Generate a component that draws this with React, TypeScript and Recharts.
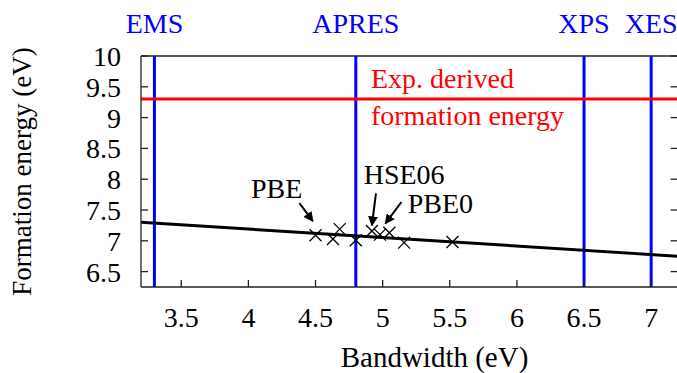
import {
  ComposedChart,
  Line,
  Scatter,
  XAxis,
  YAxis,
  ReferenceLine,
  ReferenceDot,
  Label,
} from "recharts";

const FONT = "Liberation Serif";
const FS = 28;

// calculated formation energy vs bandwidth for each functional
const bandwidth = [4.5, 4.63, 4.68, 4.8, 4.92, 4.98, 5.05, 5.16, 5.52];
const energy = [7.09, 7.03, 7.19, 7.01, 7.16, 7.1, 7.13, 6.97, 6.98];

// linear fit through the points
const fitX = [3.2, 7.2];
const fitY = [7.3, 6.75];

// experimental techniques (bandwidth in eV)
const methods = ["EMS", "APRES", "XPS", "XES"];
const methodBandwidth = [3.3, 4.8, 6.5, 7.0];

const expFormationEnergy = 9.3;

const xDomain = [3.2, 7.2];
const yDomain = [6.25, 10];
const xTicks = [3.5, 4, 4.5, 5, 5.5, 6, 6.5, 7];
const yTicks = [6.5, 7, 7.5, 8, 8.5, 9, 9.5, 10];

// functional labels with arrows pointing to their points
const funcNames = ["PBE", "HSE06", "PBE0"];
const funcLabelPos = [
  [4.21, 7.86],
  [5.16, 8.09],
  [5.43, 7.61],
];
const funcArrows = [
  [[4.38, 7.61], [4.48, 7.32]],
  [[4.95, 7.77], [4.92, 7.25]],
  [[5.14, 7.63], [5.02, 7.28]],
];

const points = bandwidth.map((x, i) => ({ x, y: energy[i] }));
const fit = fitX.map((x, i) => ({ x, y: fitY[i] }));

const Cross = (props: any) => {
  const { cx, cy } = props;
  const s = 6;
  return (
    <g stroke="#000" strokeWidth={1.3}>
      <line x1={cx - s} y1={cy - s} x2={cx + s} y2={cy + s} />
      <line x1={cx - s} y1={cy + s} x2={cx + s} y2={cy - s} />
    </g>
  );
};

const axisColor = "#222";
const textStyle = { fontFamily: FONT };
// length of the mirrored right-hand ticks, in eV
const rightTickLen = 0.055;

export default function App() {
  return (
    <div style={{ position: "absolute", left: 0, top: 0, width: 677, height: 373, overflow: "hidden", fontFamily: FONT }}>
      <ComposedChart
        width={679}
        height={373}
        margin={{ top: 56, right: 1, left: 0, bottom: 0 }}
        style={textStyle}
      >
        <defs>
          <marker id="head" viewBox="0 0 10 10" refX="9" refY="5" markerWidth="5" markerHeight="5" orient="auto">
            <path d="M0,0 L10,5 L0,10 z" fill="#000" />
          </marker>
        </defs>
        <XAxis
          type="number"
          dataKey="x"
          domain={xDomain}
          ticks={xTicks}
          interval={0}
          allowDataOverflow
          height={86}
          tickSize={-7}
          tickMargin={27}
          stroke={axisColor}
          strokeWidth={1.3}
          tickLine={{ stroke: axisColor, strokeWidth: 1.3 }}
          tick={{ fill: "#000", fontSize: FS, style: textStyle }}
        >
          <Label
            content={({ viewBox }: any) => (
              <text
                x={viewBox.x + viewBox.width / 2 + 25}
                y={viewBox.y + 80}
                textAnchor="middle"
                fontSize={29}
                style={textStyle}
                fill="#000"
              >
                Bandwidth (eV)
              </text>
            )}
          />
        </XAxis>
        <YAxis
          type="number"
          dataKey="y"
          domain={yDomain}
          ticks={yTicks}
          interval={0}
          allowDataOverflow
          width={141}
          tickSize={-7}
          tickMargin={27}
          stroke={axisColor}
          strokeWidth={1.3}
          tickLine={{ stroke: axisColor, strokeWidth: 1.3 }}
          tick={{ fill: "#000", fontSize: FS, style: textStyle }}
        >
          <Label
            content={({ viewBox }: any) => {
              const cx = viewBox.x + 22;
              const cy = viewBox.y + viewBox.height / 2;
              return (
                <text
                  x={cx}
                  y={cy}
                  dy="0.35em"
                  textAnchor="middle"
                  fontSize={27}
                  style={textStyle}
                  fill="#000"
                  transform={`rotate(-90 ${cx} ${cy})`}
                >
                  Formation energy (eV)
                </text>
              );
            }}
          />
        </YAxis>
        <ReferenceLine y={10} stroke={axisColor} strokeWidth={1.3} />
        {yTicks.map((t) => (
          <ReferenceLine
            key={"rt" + t}
            segment={[
              { x: xDomain[1] - rightTickLen, y: t },
              { x: xDomain[1], y: t },
            ]}
            stroke={axisColor}
            strokeWidth={1.3}
            ifOverflow="visible"
          />
        ))}

        {methods.map((m, i) => (
          <ReferenceLine
            key={m}
            x={methodBandwidth[i]}
            stroke="#0000ff"
            strokeWidth={3}
            label={{ value: m, position: "top", offset: 23, fill: "#0000ff", fontSize: FS, style: textStyle }}
          />
        ))}

        <ReferenceLine y={expFormationEnergy} stroke="#ff0000" strokeWidth={3} />
        <ReferenceDot
          x={4.913}
          y={9.646}
          r={0}
          stroke="none"
          label={{ value: "Exp. derived", position: "right", offset: 0, fill: "#ff0000", fontSize: FS, style: textStyle }}
        />
        <ReferenceDot
          x={4.913}
          y={9.045}
          r={0}
          stroke="none"
          label={{ value: "formation energy", position: "right", offset: 0, fill: "#ff0000", fontSize: FS, style: textStyle }}
        />

        <Line
          data={fit}
          dataKey="y"
          type="linear"
          stroke="#000"
          strokeWidth={3}
          dot={false}
          activeDot={false}
          isAnimationActive={false}
        />
        <Scatter data={points} shape={<Cross />} isAnimationActive={false} />

        {funcNames.map((n, i) => (
          <ReferenceDot
            key={n}
            x={funcLabelPos[i][0]}
            y={funcLabelPos[i][1]}
            r={0}
            stroke="none"
            label={{ value: n, position: "center", fill: "#000", fontSize: FS, style: textStyle }}
          />
        ))}
        {funcArrows.map((seg, i) => (
          <ReferenceLine
            key={"a" + i}
            segment={[
              { x: seg[0][0], y: seg[0][1] },
              { x: seg[1][0], y: seg[1][1] },
            ]}
            stroke="#000"
            strokeWidth={2}
            markerEnd="url(#head)"
          />
        ))}
      </ComposedChart>
    </div>
  );
}
